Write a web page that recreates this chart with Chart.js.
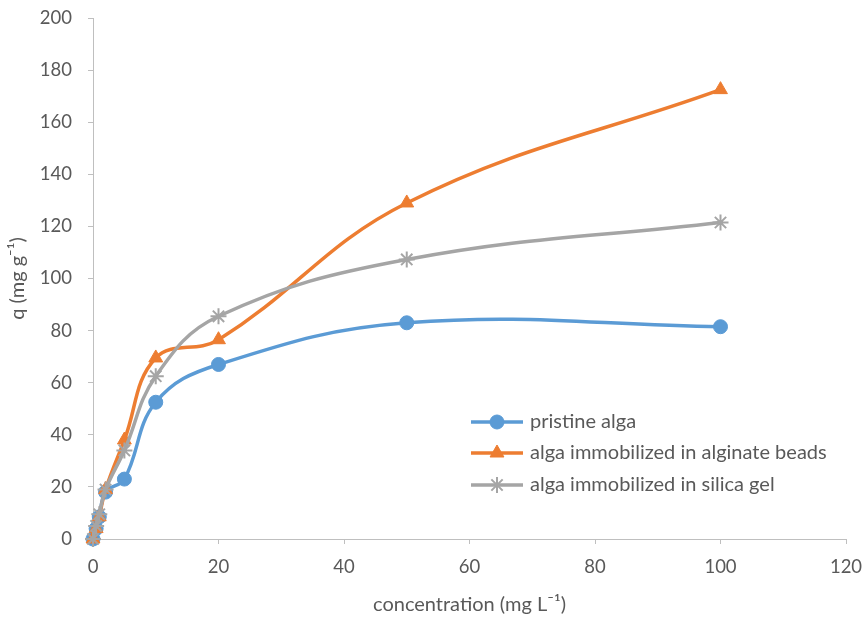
<!DOCTYPE html>
<html>
<head>
<meta charset="utf-8">
<script src="https://cdn.jsdelivr.net/npm/chart.js@4.4.0/dist/chart.umd.min.js"></script>
<style>
  body { margin: 0; background: #fff; }
  #wrap { width: 863px; height: 623px; }
</style>
</head>
<body>
<div id="wrap"><canvas id="chart" width="863" height="623"></canvas></div>
<script>
// concentration (mg/L) and q (mg/g)
const concentration = [0, 0.5, 1, 2, 5, 10, 20, 50, 100];
const pristineAlga = [0, 4, 8.5, 18, 23, 52.5, 67, 83, 81.5];
const alginateBeads = [0, 4, 8.5, 19, 38, 69.5, 76.5, 129, 172.5];
const silicaGel = [0, 5, 9.5, 19, 34, 62.5, 85.5, 107.3, 121.5];
const xTicks = [0, 20, 40, 60, 80, 100, 120];
const yTicks = [0, 20, 40, 60, 80, 100, 120, 140, 160, 180, 200];

const textColor = '#595959';
const axisColor = '#bfbfbf';
const font = 'Lato';

const toPoints = ys => concentration.map((x, i) => ({ x: x, y: ys[i] }));

const series = (label, ys, color, style, radius, order) => ({
    label: label,
    data: toPoints(ys),
    borderColor: color,
    backgroundColor: color,
    borderWidth: 3.5,
    pointStyle: style,
    pointRadius: radius,
    pointHoverRadius: radius,
    pointBorderWidth: style === 'star' ? 2 : 1,
    showLine: true,
    tension: 0.4,
    clip: false,
    order: order
});

// legend drawn inside the plot, Excel style (line with marker in the middle)
const insideLegend = {
    id: 'insideLegend',
    afterDraw(chart) {
        const ctx = chart.ctx;
        const rows = [422, 453, 485];
        ctx.save();
        chart.data.datasets.forEach((ds, i) => {
            const y = rows[i];
            ctx.strokeStyle = ds.borderColor;
            ctx.lineWidth = 3.5;
            ctx.beginPath();
            ctx.moveTo(471, y);
            ctx.lineTo(523, y);
            ctx.stroke();
            ctx.fillStyle = ds.backgroundColor;
            ctx.lineWidth = ds.pointBorderWidth;
            Chart.helpers.drawPoint(ctx, {
                pointStyle: ds.pointStyle,
                radius: ds.pointRadius,
                rotation: 0,
                borderWidth: ds.pointBorderWidth
            }, 497, y);
            ctx.fillStyle = textColor;
            ctx.font = '20px ' + font;
            ctx.textBaseline = 'middle';
            ctx.textAlign = 'left';
            ctx.fillText(ds.label, 530, y);
        });
        ctx.restore();
    }
};

// let the layout padding alone decide where the plot area sits
const noLabelPadding = s => {
    s.paddingTop = 0;
    s.paddingBottom = 0;
    s.paddingLeft = 0;
    s.paddingRight = 0;
};

new Chart(document.getElementById('chart'), {
    type: 'scatter',
    data: {
        datasets: [
            series('pristine alga', pristineAlga, '#5B9BD5', 'circle', 7, 3),
            series('alga immobilized in alginate beads', alginateBeads, '#ED7D31', 'triangle', 8, 2),
            series('alga immobilized in silica gel', silicaGel, '#A5A5A5', 'star', 8, 1)
        ]
    },
    options: {
        responsive: false,
        animation: false,
        layout: { padding: { top: 18, right: 17, left: 0, bottom: 0 } },
        plugins: {
            legend: { display: false },
            tooltip: { enabled: false }
        },
        scales: {
            x: {
                type: 'linear',
                min: 0,
                max: 120,
                afterBuildTicks: s => { s.ticks = xTicks.map(v => ({ value: v })); },
                afterFit: s => { s.height = 84; noLabelPadding(s); },
                grid: { display: true, drawOnChartArea: false, tickLength: 5, color: axisColor },
                border: { display: true, color: axisColor, width: 1 },
                ticks: { color: textColor, font: { family: font, size: 18.5 }, padding: 12 },
                title: {
                    display: true,
                    text: 'concentration (mg L⁻¹)',
                    color: textColor,
                    font: { family: font, size: 20 },
                    padding: { top: 0, bottom: 6 }
                }
            },
            y: {
                type: 'linear',
                min: 0,
                max: 200,
                afterBuildTicks: s => { s.ticks = yTicks.map(v => ({ value: v })); },
                afterFit: s => { s.width = 93; noLabelPadding(s); },
                grid: { display: true, drawOnChartArea: false, tickLength: 5, color: axisColor },
                border: { display: true, color: axisColor, width: 1 },
                ticks: { color: textColor, font: { family: font, size: 18.5 }, padding: 16 },
                title: {
                    display: true,
                    text: 'q (mg g⁻¹)',
                    color: textColor,
                    font: { family: font, size: 20 },
                    padding: { top: 6, bottom: 0 }
                }
            }
        }
    },
    plugins: [insideLegend]
});
</script>
</body>
</html>
